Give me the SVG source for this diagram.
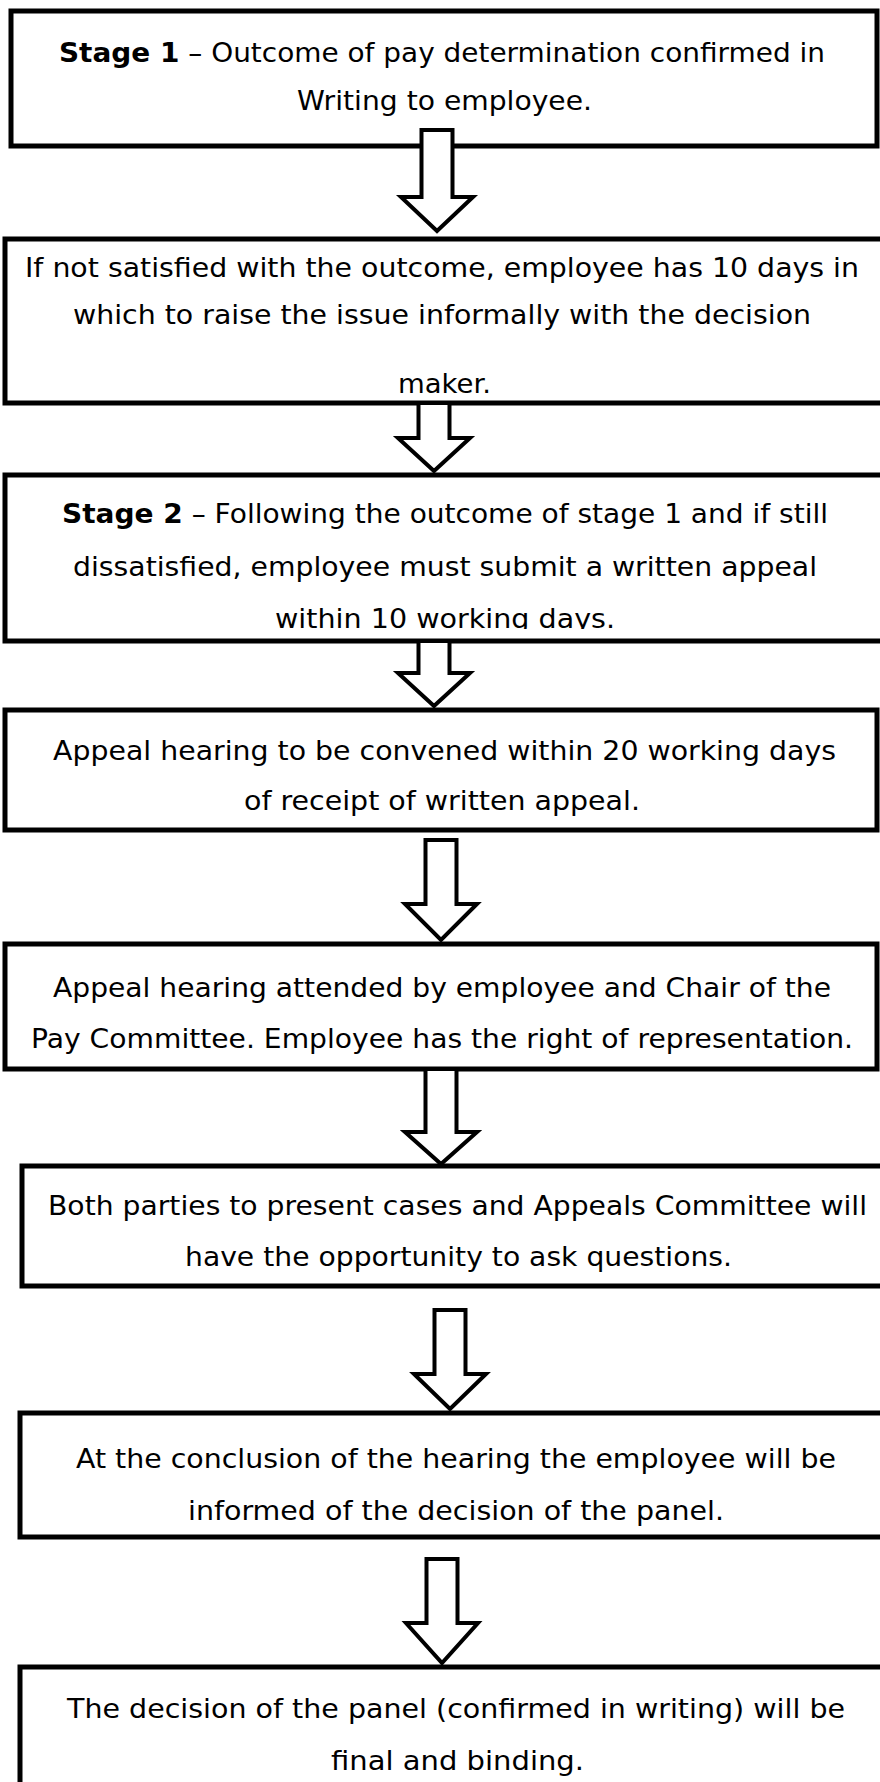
<svg xmlns="http://www.w3.org/2000/svg" width="880" height="1782" viewBox="0 0 880 1782">
<style>
.box{fill:#fff;stroke:#000;stroke-width:5}
.arr{fill:#fff;stroke:#000;stroke-width:4;stroke-linejoin:miter}
.t{font-family:"DejaVu Sans","Verdana",sans-serif;font-size:27px;fill:#000}
.b{font-weight:bold}
</style>
<defs>
<clipPath id="clip3"><rect x="0" y="477" width="880" height="152"/></clipPath>
</defs>
<rect width="880" height="1782" fill="#fff"/>
<g id="node1">
<rect class="box" x="11" y="11" width="866" height="135"/>
<text class="t" x="59" y="62" textLength="766" lengthAdjust="spacingAndGlyphs"><tspan class="b">Stage 1</tspan> – Outcome of pay determination confirmed in</text>
<text class="t" x="297" y="110" textLength="295" lengthAdjust="spacingAndGlyphs">Writing to employee.</text>
</g>
<g id="node2">
<rect class="box" x="5" y="239" width="885" height="164"/>
<text class="t" x="25" y="277" textLength="834" lengthAdjust="spacingAndGlyphs">If not satisfied with the outcome, employee has 10 days in</text>
<text class="t" x="73" y="324" textLength="738" lengthAdjust="spacingAndGlyphs">which to raise the issue informally with the decision</text>
<text class="t" x="398" y="393" textLength="93" lengthAdjust="spacingAndGlyphs">maker.</text>
</g>
<g id="node3">
<rect class="box" x="5" y="475" width="885" height="166"/>
<g clip-path="url(#clip3)">
<text class="t" x="62" y="523" textLength="766" lengthAdjust="spacingAndGlyphs"><tspan class="b">Stage 2</tspan> – Following the outcome of stage 1 and if still</text>
<text class="t" x="73" y="576" textLength="744" lengthAdjust="spacingAndGlyphs">dissatisfied, employee must submit a written appeal</text>
<text class="t" x="275" y="628" textLength="340" lengthAdjust="spacingAndGlyphs">within 10 working days.</text>
</g>
</g>
<g id="node4">
<rect class="box" x="5" y="710" width="872" height="120"/>
<text class="t" x="53" y="760" textLength="783" lengthAdjust="spacingAndGlyphs">Appeal hearing to be convened within 20 working days</text>
<text class="t" x="244" y="810" textLength="396" lengthAdjust="spacingAndGlyphs">of receipt of written appeal.</text>
</g>
<g id="node5">
<rect class="box" x="5" y="944" width="872" height="125"/>
<text class="t" x="53" y="997" textLength="778" lengthAdjust="spacingAndGlyphs">Appeal hearing attended by employee and Chair of the</text>
<text class="t" x="31" y="1048" textLength="822" lengthAdjust="spacingAndGlyphs">Pay Committee. Employee has the right of representation.</text>
</g>
<g id="node6">
<rect class="box" x="22" y="1166" width="880" height="120"/>
<text class="t" x="48" y="1215" textLength="819" lengthAdjust="spacingAndGlyphs">Both parties to present cases and Appeals Committee will</text>
<text class="t" x="185" y="1266" textLength="547" lengthAdjust="spacingAndGlyphs">have the opportunity to ask questions.</text>
</g>
<g id="node7">
<rect class="box" x="20" y="1413" width="880" height="124"/>
<text class="t" x="76" y="1468" textLength="760" lengthAdjust="spacingAndGlyphs">At the conclusion of the hearing the employee will be</text>
<text class="t" x="188" y="1520" textLength="536" lengthAdjust="spacingAndGlyphs">informed of the decision of the panel.</text>
</g>
<g id="node8">
<rect class="box" x="20" y="1667" width="880" height="140"/>
<text class="t" x="67" y="1718" textLength="778" lengthAdjust="spacingAndGlyphs">The decision of the panel (confirmed in writing) will be</text>
<text class="t" x="331" y="1770" textLength="253" lengthAdjust="spacingAndGlyphs">final and binding.</text>
</g>
<g id="connectors">
<path class="arr" d="M421.5,130 H452.5 V197 H473 L437,231 L401,197 H421.5 Z"/>
<path class="arr" d="M418.5,403 H449.5 V438 H470 L434,471 L398,438 H418.5 Z"/>
<path class="arr" d="M418.5,641 H449.5 V673 H470 L434,706 L398,673 H418.5 Z"/>
<path class="arr" d="M425.5,840 H456.5 V904 H477 L441,940 L405,904 H425.5 Z"/>
<path class="arr" d="M425.5,1069 H456.5 V1132 H477 L441,1164 L405,1132 H425.5 Z"/>
<path class="arr" d="M434.5,1310 H465.5 V1374 H486 L450,1409 L414,1374 H434.5 Z"/>
<path class="arr" d="M426.5,1559 H457.5 V1623 H478 L442,1663 L406,1623 H426.5 Z"/>
</g>
</svg>
